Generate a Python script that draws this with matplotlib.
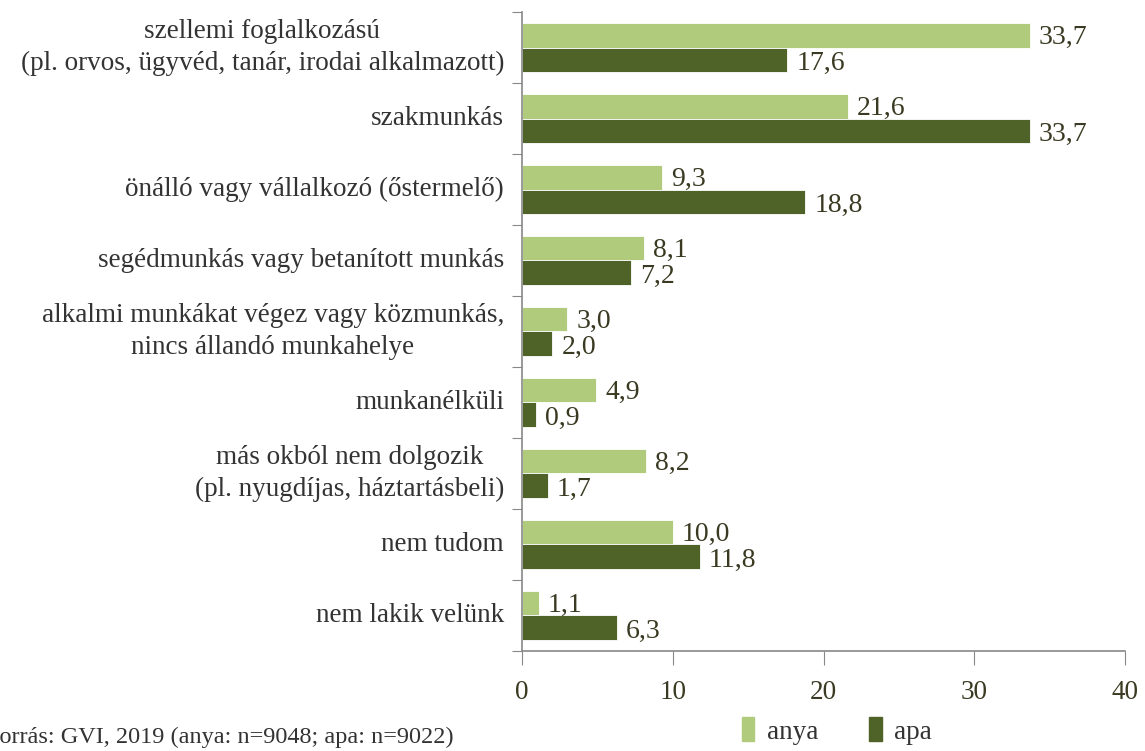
import numpy as np
import matplotlib
matplotlib.use('Agg')
import matplotlib.pyplot as plt
from matplotlib.patches import Patch

# Data
categories = [
    'szellemi foglalkozású\n(pl. orvos, ügyvéd, tanár, irodai alkalmazott)',
    'szakmunkás',
    'önálló vagy vállalkozó (őstermelő)',
    'segédmunkás vagy betanított munkás',
    'alkalmi munkákat végez vagy közmunkás,\nnincs állandó munkahelye',
    'munkanélküli',
    'más okból nem dolgozik\n(pl. nyugdíjas, háztartásbeli)',
    'nem tudom',
    'nem lakik velünk',
]
anya = [33.7, 21.6, 9.3, 8.1, 3.0, 4.9, 8.2, 10.0, 1.1]
apa = [17.6, 33.7, 18.8, 7.2, 2.0, 0.9, 1.7, 11.8, 6.3]
series_names = ['anya', 'apa']
source_text = 'Forrás: GVI, 2019 (anya: n=9048; apa: n=9022)'

light = '#b0cb7c'
dark = '#4f6228'
text_col = '#333333'
num_col = '#3a3a22'

plt.rcParams['font.family'] = ['Liberation Serif', 'DejaVu Serif']

fig = plt.figure(figsize=(11.45, 7.51), dpi=100)
ax = fig.add_axes([0.456, 0.1332, 0.5265, 0.8508])

n = len(categories)
y = np.arange(n)
h = 0.34
ax.barh(y - h / 2, anya, height=h, color=light, edgecolor='white', linewidth=0.6)
ax.barh(y + h / 2, apa, height=h, color=dark, edgecolor='white', linewidth=0.6)

def fmt(v):
    return f'{v:.1f}'.replace('.', ',')

for yi, a, b in zip(y, anya, apa):
    ax.text(a + 0.6, yi - h / 2 + 0.03, fmt(a), va='center', ha='left', fontsize=20, color=num_col)
    ax.text(b + 0.6, yi + h / 2 + 0.05, fmt(b), va='center', ha='left', fontsize=20, color=num_col)

ax.set_ylim(n - 0.5, -0.5)
ax.set_xlim(0, 40)
ax.set_xticks([0, 10, 20, 30, 40])
ax.tick_params(axis='x', direction='out', length=10, color='#888888', labelsize=19.5, labelcolor=num_col, pad=11)

# y ticks at group boundaries, labels centred in groups
ax.set_yticks(np.arange(n + 1) - 0.5)
ax.set_yticklabels([])
ax.tick_params(axis='y', direction='out', length=7, color='#888888')
for yi, lab in zip(y, categories):
    ax.text(-1.2, yi, lab, ha='right', va='center', fontsize=19.5, color=text_col,
            multialignment='center', linespacing=1.35)

for s in ['top', 'right']:
    ax.spines[s].set_visible(False)
for s in ['left', 'bottom']:
    ax.spines[s].set_color('#888888')
    ax.spines[s].set_linewidth(1.2)

fig.text(-0.012, 0.004, source_text, fontsize=17.5, color=text_col, ha='left', va='bottom')

handles = [Patch(color=light), Patch(color=dark)]
fig.legend(handles, series_names, loc='lower left', bbox_to_anchor=(0.627, -0.024), ncol=2,
           frameon=False, fontsize=19.5, handlelength=0.45, handleheight=1.0,
           handletextpad=0.45, columnspacing=1.9, labelcolor=text_col)

fig.savefig('out.png', dpi=100)
